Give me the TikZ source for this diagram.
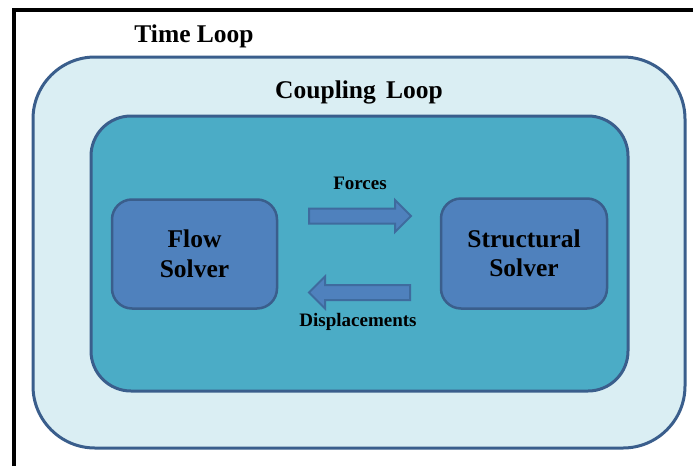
\documentclass[tikz,border=0pt]{standalone}
\usepackage{fontspec}
\setmainfont{Liberation Serif}
\definecolor{outerfill}{HTML}{DAEEF3}
\definecolor{edgeblue}{HTML}{3A5E8C}
\definecolor{innerfill}{HTML}{4BACC6}
\definecolor{solverfill}{HTML}{4F81BD}
\definecolor{arrowedge}{HTML}{3F6B9E}
\begin{document}
\begin{tikzpicture}[x=1pt,y=-1pt,
  loopbox/.style={draw=edgeblue,line width=3pt,rectangle,inner sep=0pt,outer sep=0pt},
  solverbox/.style={draw=edgeblue,fill=solverfill,line width=2.5pt,rectangle,rounded corners=20pt,
    minimum width=165pt,minimum height=109pt,inner sep=0pt,align=center,
    font=\fontsize{25.5}{29.5}\selectfont\bfseries},
  looplabel/.style={inner sep=0pt,font=\fontsize{25.5}{30}\selectfont\bfseries},
  arrowlabel/.style={inner sep=0pt,font=\fontsize{19}{22}\selectfont\bfseries},
  blockarrow/.style={draw=arrowedge,fill=solverfill,line width=2pt,line join=miter}]
\useasboundingbox (0,0) rectangle (693,466);
\fill[white] (0,0) rectangle (693,466);
% frame
\draw[line width=3.3pt] (14,466) -- (14,10) -- (693,10);
% loops
\node[loopbox,fill=outerfill,rounded corners=62pt,minimum width=652pt,minimum height=391pt] (outer) at (359,252.5) {};
\node[loopbox,fill=innerfill,rounded corners=40pt,minimum width=537pt,minimum height=275pt] (inner) at (359.5,253.5) {};
\node[looplabel] (timelabel) at (194,36) {Time Loop};
\node[looplabel] (couplabel) at (359,92) {Coupling\hspace{0.15em} Loop};
% solvers
\node[solverbox] (flow) at (194.5,254) {Flow\\Solver};
\node[solverbox,minimum width=166pt,minimum height=110pt] (struct) at (524,253.5) {Structural\\Solver};
% block arrows
\filldraw[blockarrow] (309,208.5) -- (395,208.5) -- (395,200) -- (411,216) -- (395,232) -- (395,223.5) -- (309,223.5) -- cycle;
\filldraw[blockarrow] (410,285) -- (325,285) -- (325,276.5) -- (309,292.5) -- (325,308.5) -- (325,300) -- (410,300) -- cycle;
\node[arrowlabel] (forces) at (360,183) {Forces};
\node[arrowlabel] (disp) at (358,322) {Displacements};
\end{tikzpicture}
\end{document}
